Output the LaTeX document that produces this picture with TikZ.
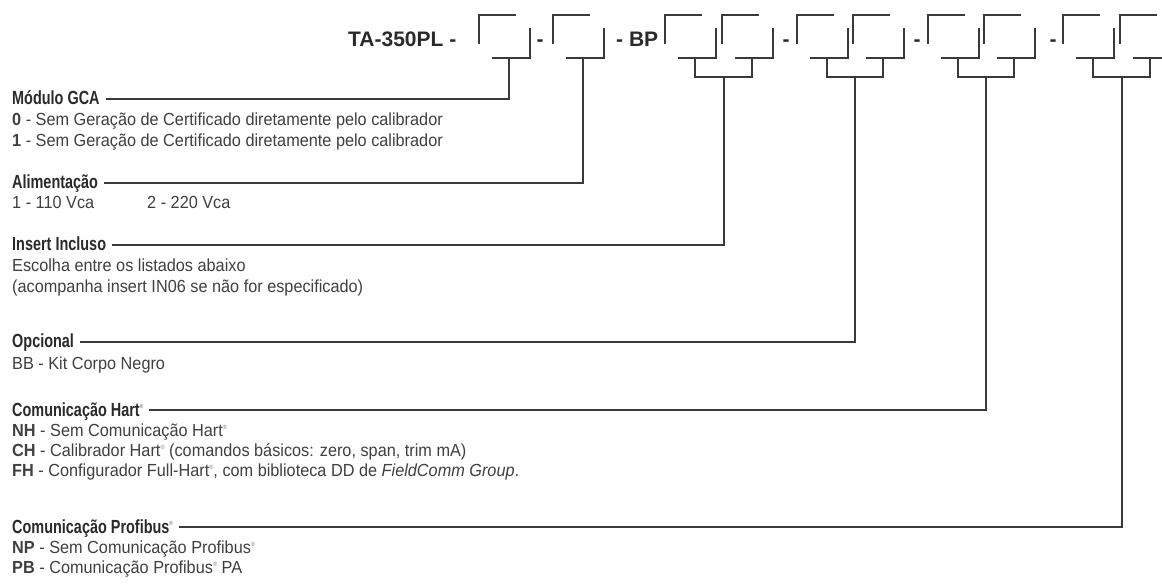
\documentclass[tikz,border=0pt]{standalone}
\usepackage{fontspec}
\usetikzlibrary{calc}
\setmainfont{Liberation Sans}
\newfontfamily\cond{Liberation Sans}[FakeStretch=0.93]
\newfontfamily\condh{Liberation Sans}[FakeStretch=0.76]
\newfontfamily\titlefont{Liberation Sans}
\definecolor{ink}{HTML}{3A3A3A}
\definecolor{txt}{HTML}{404040}
\definecolor{hd}{HTML}{2A2A2A}
\newcommand{\reg}{\raisebox{0.75ex}{\fontsize{6}{6}\selectfont\color{gray}®}}
\begin{document}
\begin{tikzpicture}[x=1pt,y=-1pt,
  brk/.style={line width=2.6pt, draw=ink, line cap=butt, line join=miter},
  conn/.style={line width=2pt, draw=ink, line join=miter},
  ttl/.style={font=\titlefont\bfseries\fontsize{21}{24}\selectfont, text=hd, inner sep=0pt, anchor=base west},
  head/.style={font=\condh\bfseries\fontsize{19}{22}\selectfont, text=hd, inner sep=0pt, anchor=base west},
  item/.style={font=\cond\fontsize{17.5}{20}\selectfont, text=txt, inner sep=0pt, anchor=base west}]
\path[use as bounding box] (0,0) rectangle (1162,585);
\clip (0,0) rectangle (1162,585);
\fill[white] (0,0) rectangle (1162,585);

% title pieces
\node[ttl] (t0) at (348,47) {TA-350PL -};
\node[ttl, anchor=base] (t1) at (540,47) {-};
\node[ttl] (t2) at (616,47) {- BP};
\node[ttl, anchor=base] (t3) at (786,47) {-};
\node[ttl, anchor=base] (t4) at (917,47) {-};
\node[ttl, anchor=base] (t5) at (1053,47) {-};

% code boxes
\foreach \xl/\n in {479/1,553/2,665/3,722/4,797/5,853/6,928/7,984/8,1063/9,1120/10}{
  \draw[brk] (\xl,44) -- (\xl,15) -- (\xl+37,15);
  \draw[brk] (\xl+13,58) -- (\xl+51,58) -- (\xl+51,28);
  \coordinate (b\n) at (\xl+30,58);
}
% joined pairs
\foreach \a/\b/\p in {3/4/p2,5/6/p3,7/8/p4,9/10/p5}{
  \draw[brk] (b\a) -- ($(b\a)+(0,19)$) -- ($(b\b)+(0,19)$) -- (b\b);
  \coordinate (\p) at ($($(b\a)!0.5!(b\b)$)+(0,19)$);
}

% headings and items
\node[head] (mod) at (12,105) {Módulo GCA};
\node[item] (mod0) at (12,126) {\textbf{0} - Sem Geração de Certificado diretamente pelo calibrador};
\node[item] (mod1) at (12,147) {\textbf{1} - Sem Geração de Certificado diretamente pelo calibrador};

\node[head] (ali) at (12,189) {Alimentação};
\node[item] (ali1) at (12,209) {1 - 110 Vca};
\node[item] (ali2) at (147,209) {2 - 220 Vca};

\node[head] (ins) at (12,251) {Insert Incluso};
\node[item] (ins1) at (12,272) {Escolha entre os listados abaixo};
\node[item] (ins2) at (12,293) {(acompanha insert IN06 se não for especificado)};

\node[head] (opc) at (12,348) {Opcional};
\node[item] (opc1) at (12,369) {BB - Kit Corpo Negro};

\node[head] (hart) at (12,416) {Comunicação Hart\reg};
\node[item] (hart1) at (12,436) {\textbf{NH} - Sem Comunicação Hart\reg};
\node[item] (hart2) at (12,456) {\textbf{CH} - Calibrador Hart\reg\ (comandos básicos: zero, span, trim mA)};
\node[item] (hart3) at (12,476) {\textbf{FH} - Configurador Full-Hart\reg, com biblioteca DD de \textit{FieldComm Group}.};

\node[head] (prof) at (12,533) {Comunicação Profibus\reg};
\node[item] (prof1) at (12,553) {\textbf{NP} - Sem Comunicação Profibus\reg};
\node[item] (prof2) at (12,573) {\textbf{PB} - Comunicação Profibus\reg\ PA};

% connectors
\foreach \h/\s in {mod/b1,ali/b2,ins/p2,opc/p3,hart/p4,prof/p5}{
  \coordinate (c\h) at ($(\h.base east)+(6,-6)$);
  \draw[conn] (c\h) -- (c\h -| \s) -- (\s);
}
\end{tikzpicture}
\end{document}
